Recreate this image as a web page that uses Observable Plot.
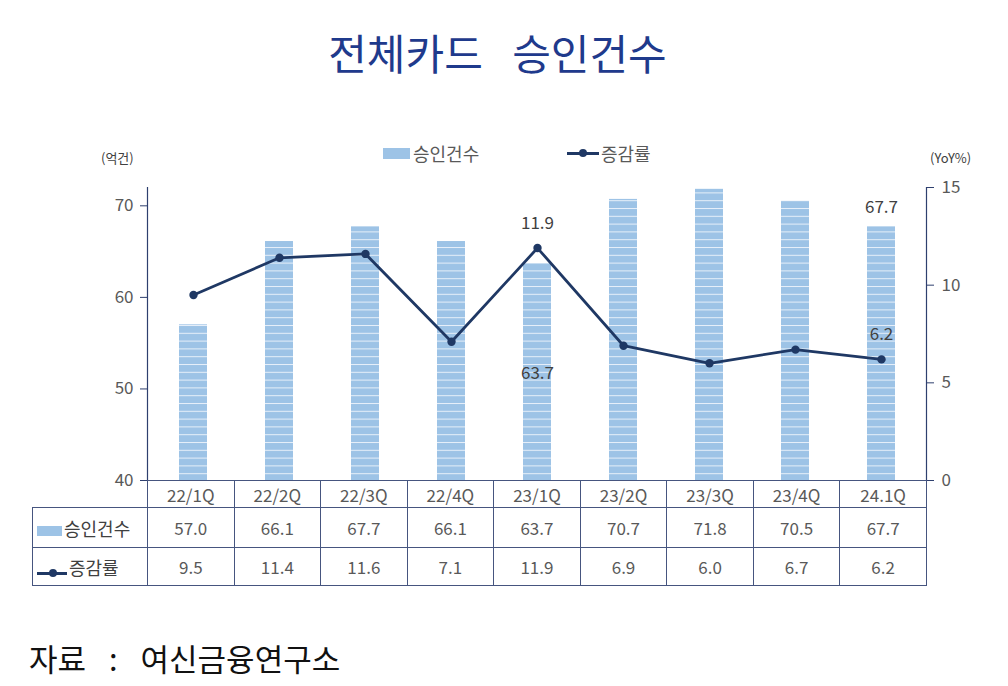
<!DOCTYPE html>
<html><head><meta charset="utf-8">
<script src="https://cdn.jsdelivr.net/npm/d3@7"></script>
<script src="https://cdn.jsdelivr.net/npm/@observablehq/plot@0.6"></script>
<style>
body{margin:0;background:#fff;}
#wrap{position:relative;width:1008px;height:686px;font-family:"Noto Sans CJK KR","Noto Sans",sans-serif;overflow:hidden;background:#fff;}
.abs{position:absolute;}
#title{left:0;width:995px;top:22px;text-align:center;font-size:42px;color:#1f3a8c;font-weight:400;line-height:60px;word-spacing:20px;white-space:pre;}
#foot{left:29px;top:633px;font-size:31px;color:#111;line-height:50px;word-spacing:16px;}
.unit{font-size:13px;color:#404040;top:148px;}
.leg{top:142px;font-size:18px;color:#595959;line-height:22px;display:flex;align-items:center;}
.sw-bar{display:inline-block;width:27px;height:11px;background:#9dc3e6;margin-right:3px;}
.sw-line{display:inline-block;position:relative;width:32px;height:3px;background:#1f3864;margin-right:2px;}
.sw-line::after{content:"";position:absolute;left:12px;top:-3px;width:8px;height:8px;border-radius:50%;background:#1f3864;}
#tbl{position:absolute;left:32px;top:480px;border-collapse:collapse;table-layout:fixed;font-size:17px;color:#595959;}
#tbl td{border:1px solid #46557f;text-align:center;padding:0;white-space:nowrap;}
#tbl td.corner{border-top:none;border-left:none;}
#tbl td.lab{text-align:left;padding-left:4px;font-size:18px;color:#404040;}
</style></head>
<body><div id="wrap">
<div id="title" class="abs"></div>
<div id="foot" class="abs"></div>
</div>
<script>
const titleText = "전체카드 승인건수";
const footText = "자료 : 여신금융연구소";
const seriesNames = ["승인건수", "증감률"];
const unitLeft = "(억건)";
const unitRight = "(YoY%)";
const quarters = ["22/1Q","22/2Q","22/3Q","22/4Q","23/1Q","23/2Q","23/3Q","23/4Q","24.1Q"];
const counts = [57.0, 66.1, 67.7, 66.1, 63.7, 70.7, 71.8, 70.5, 67.7];
const growth = [9.5, 11.4, 11.6, 7.1, 11.9, 6.9, 6.0, 6.7, 6.2];
const leftTicks = [40, 50, 60, 70];
const rightTicks = [0, 5, 10, 15];
const countLabels = [{q:"23/1Q", dy:110}, {q:"24.1Q", dy:-19}];
const growthLabels = [{q:"23/1Q", dy:-25}, {q:"24.1Q", dy:-25}];

const rows = quarters.map((q,i)=>({q, count:counts[i], growth:growth[i]}));
const byQ = new Map(rows.map(r=>[r.q,r]));
const wrap = document.getElementById("wrap");
document.getElementById("title").textContent = titleText;
document.getElementById("foot").textContent = footText;

const font = '"Noto Sans CJK KR","Noto Sans",sans-serif';
const common = {width:1008, height:370, marginLeft:147, marginRight:82, marginTop:57, marginBottom:20,
  style:{fontFamily:font, fontSize:"17px", background:"transparent", color:"#595959"}};
const xBand = {type:"band", domain:quarters, paddingInner:0.68, paddingOuter:0.34, axis:null};
const xPoint = {type:"point", domain:quarters, padding:0.5, axis:null};

function place(svg){
  svg.style.position = "absolute"; svg.style.left = "0px"; svg.style.top = "130px"; svg.style.overflow = "visible";
  wrap.appendChild(svg); return svg;
}

const left = place(Plot.plot({...common,
  x:xBand,
  y:{domain:[40,72], axis:null},
  marks:[
    Plot.barY(rows, {x:"q", y1:40, y2:"count", fill:"url(#stripes)"}),
    Plot.axisY({ticks:leftTicks, tickSize:7, tickPadding:7, stroke:"#2e3f6e", fill:"#595959", fontSize:17, label:null, anchor:"left"}),
    Plot.frame({anchor:"left", stroke:"#2e3f6e", strokeWidth:1.2})
  ]
}));
const defs = d3.select(left).insert("defs", ":first-child");
const pat = defs.append("pattern").attr("id","stripes").attr("patternUnits","userSpaceOnUse").attr("width",10).attr("height",7.8);
pat.append("rect").attr("width",10).attr("height",7.8).attr("fill","#9dc3e6");
pat.append("rect").attr("width",10).attr("height",1).attr("fill","#e6eff9");

place(Plot.plot({...common,
  x:xPoint,
  y:{domain:[0,15], axis:null},
  marks:[
    Plot.axisY({ticks:rightTicks, tickSize:7, tickPadding:8, stroke:"#2e3f6e", fill:"#595959", fontSize:17, label:null, anchor:"right"}),
    Plot.frame({anchor:"right", stroke:"#2e3f6e", strokeWidth:1.2}),
    Plot.line(rows, {x:"q", y:"growth", stroke:"#1f3864", strokeWidth:2.8}),
    Plot.dot(rows, {x:"q", y:"growth", r:4.2, fill:"#1f3864"})
  ]
}));

// value labels, each with its own offset
function addLabels(labels, field, yDomain, xOpt){
  labels.forEach(l=>{
    place(Plot.plot({...common, x:xOpt, y:{domain:yDomain, axis:null},
      marks:[Plot.text([byQ.get(l.q)], {x:"q", y:field, text:d=>d[field].toFixed(1), dy:l.dy, fill:"#404040", fontSize:17})]}));
  });
}
addLabels(countLabels, "count", [40,72], xBand);
addLabels(growthLabels, "growth", [0,15], xPoint);

// legend & units
function addAbs(html, cls, css){const e=document.createElement("div");e.className="abs "+cls;e.innerHTML=html;Object.assign(e.style,css);wrap.appendChild(e);return e;}
addAbs("", "unit", {left:"101px"}).textContent = unitLeft;
addAbs("", "unit", {left:"930px"}).textContent = unitRight;
const l1 = addAbs('<span class="sw-bar"></span><span></span>', "leg", {left:"383px"}); l1.lastChild.textContent = seriesNames[0];
const l2 = addAbs('<span class="sw-line"></span><span></span>', "leg", {left:"567px"}); l2.lastChild.textContent = seriesNames[1];

// data table
const colW = (1008-147-82)/quarters.length;
const tbl = d3.select(wrap).append("table").attr("id","tbl");
const cg = tbl.append("colgroup");
cg.append("col").style("width","115px");
quarters.forEach(()=>cg.append("col").style("width", colW+"px"));
const hr = tbl.append("tr").style("height","27px");
hr.append("td").attr("class","corner");
quarters.forEach(q=>hr.append("td").text(q));
const r1 = tbl.append("tr").style("height","40px");
r1.append("td").attr("class","lab").html('<span class="sw-bar" style="width:25px;height:10px;margin-right:2px"></span><span></span>').select("span:last-child").text(seriesNames[0]);
counts.forEach(v=>r1.append("td").text(v.toFixed(1)));
const r2 = tbl.append("tr").style("height","38px");
r2.append("td").attr("class","lab").html('<span class="sw-line" style="width:30px"></span><span></span>').select("span:last-child").text(seriesNames[1]);
growth.forEach(v=>r2.append("td").text(v.toFixed(1)));
</script>
</body></html>
